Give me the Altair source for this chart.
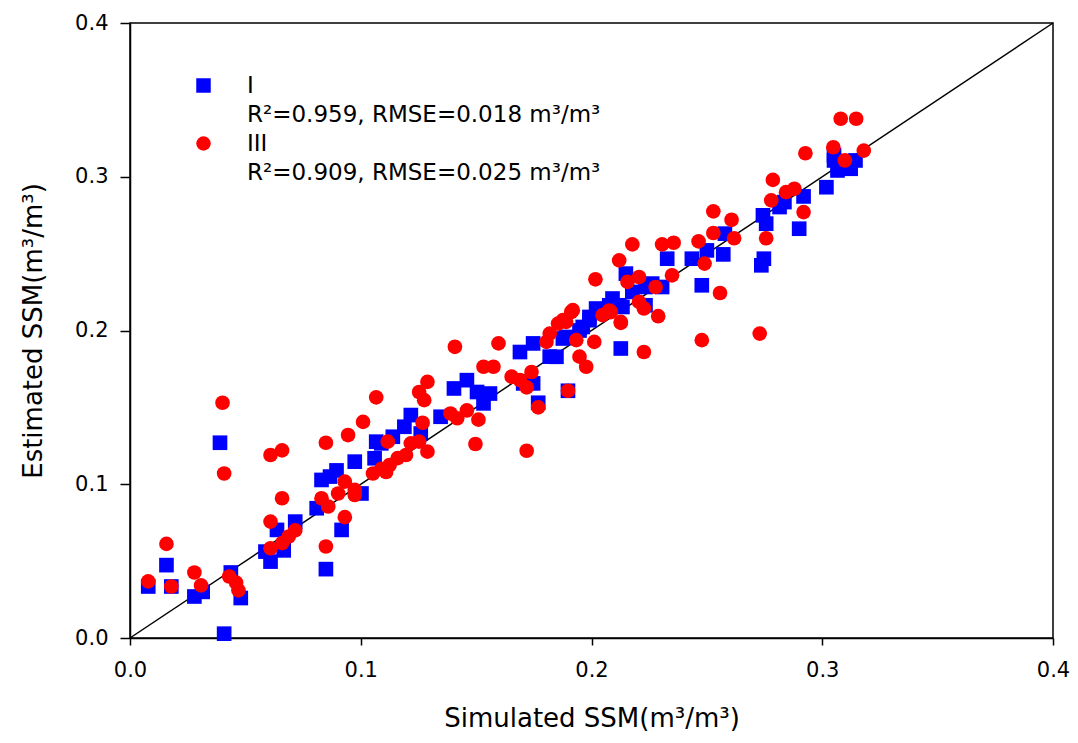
import altair as alt
import pandas as pd

# Series I (blue squares): simulated, estimated
i_sim = [0.0079, 0.0158, 0.0179, 0.0279, 0.0315, 0.039, 0.0408, 0.0437, 0.048, 0.0587,
         0.0609, 0.0637, 0.0666, 0.0716, 0.0809, 0.083, 0.0849, 0.0867, 0.0895, 0.0917,
         0.0974, 0.1003, 0.106, 0.1067, 0.1089, 0.1139, 0.1189, 0.1217, 0.126, 0.1346,
         0.1404, 0.146, 0.1504, 0.1532, 0.156, 0.169, 0.1747, 0.1819, 0.1704, 0.1747,
         0.1769, 0.1898, 0.1876, 0.1948, 0.1991, 0.202, 0.2077, 0.2134, 0.2127, 0.1891,
         0.1848, 0.1962, 0.1991, 0.2091, 0.212, 0.2149, 0.2177, 0.2234, 0.2234, 0.2263,
         0.2306, 0.2328, 0.2435, 0.2478, 0.25, 0.2571, 0.2578, 0.2736, 0.2747, 0.2743,
         0.2757, 0.2815, 0.2836, 0.290, 0.2919, 0.3018, 0.3051, 0.3066, 0.3123, 0.3144,
         0.3051]
i_est = [0.0335, 0.0474, 0.0335, 0.027, 0.030, 0.127, 0.0028, 0.0426, 0.026, 0.0562,
         0.0497, 0.0703, 0.057, 0.0757, 0.0844, 0.1028, 0.0448, 0.105, 0.109, 0.0703,
         0.1147, 0.094, 0.1169, 0.1277, 0.1266, 0.1309, 0.1374, 0.145, 0.133, 0.1439,
         0.1623, 0.1677, 0.160, 0.1526, 0.159, 0.186, 0.1916, 0.183, 0.1656, 0.1656,
         0.153, 0.1608, 0.1948, 0.200, 0.2067, 0.2143, 0.2164, 0.2153, 0.1883, 0.1958,
         0.1829, 0.2023, 0.2088, 0.2208, 0.2164, 0.237, 0.2251, 0.2164, 0.2283, 0.2305,
         0.2283, 0.2467, 0.2467, 0.2294, 0.2521, 0.2495, 0.263, 0.2424, 0.2467, 0.2749,
         0.2695, 0.2803, 0.2835, 0.2662, 0.2872, 0.2932, 0.3106, 0.3041, 0.3052, 0.3106,
         0.314]

# Series III (red circles)
iii_sim = [0.0079, 0.0158, 0.0179, 0.0279, 0.0308, 0.0401, 0.0408, 0.043, 0.046, 0.047,
           0.0609, 0.0659, 0.0659, 0.0609, 0.0609, 0.0659, 0.0688, 0.0716, 0.0849, 0.0945,
           0.101, 0.1067, 0.0849, 0.0931, 0.083, 0.0859, 0.0902, 0.0931, 0.0974, 0.0974,
           0.1053, 0.1089, 0.111, 0.1408, 0.1597, 0.1289, 0.1253, 0.1275, 0.1268, 0.1117,
           0.1217, 0.1253, 0.1289, 0.1196, 0.116, 0.1125, 0.1497, 0.1719, 0.1389, 0.146,
           0.151, 0.1418, 0.1532, 0.1575, 0.1654, 0.169, 0.1719, 0.174, 0.1769, 0.1898,
           0.1805, 0.1819, 0.1855, 0.1912, 0.189, 0.1934, 0.2012, 0.1948, 0.1977, 0.2127,
           0.2048, 0.2077, 0.2227, 0.2478, 0.2729, 0.2557, 0.2017, 0.212, 0.2177, 0.2306,
           0.2356, 0.2464, 0.2528, 0.2607, 0.2528, 0.2618, 0.249, 0.2349, 0.2278, 0.2206,
           0.2156, 0.2127, 0.2206, 0.2227, 0.2289, 0.2084, 0.1919, 0.1876, 0.2757, 0.2779,
           0.2843, 0.2879, 0.2919, 0.2786, 0.2927, 0.3048, 0.318, 0.3098, 0.308, 0.3147]
iii_est = [0.0368, 0.0612, 0.0335, 0.0426, 0.0342, 0.153, 0.107, 0.040, 0.036, 0.031,
           0.119, 0.122, 0.0909, 0.0757, 0.0584, 0.0617, 0.066, 0.070, 0.127, 0.132,
           0.1406, 0.1565, 0.0595, 0.0786, 0.0909, 0.0855, 0.094, 0.1017, 0.0963, 0.093,
           0.107, 0.110, 0.108, 0.1894, 0.1916, 0.1666, 0.160, 0.1547, 0.140, 0.1277,
           0.1266, 0.1277, 0.1212, 0.119, 0.117, 0.1125, 0.1262, 0.1218, 0.146, 0.148,
           0.142, 0.1429, 0.1764, 0.1764, 0.170, 0.1677, 0.163, 0.173, 0.150, 0.1608,
           0.1926, 0.198, 0.2045, 0.212, 0.2056, 0.1937, 0.1926, 0.183, 0.1764, 0.2056,
           0.210, 0.213, 0.186, 0.1937, 0.198, 0.2244, 0.2333, 0.2456, 0.256, 0.256,
           0.2571, 0.258, 0.2775, 0.272, 0.2634, 0.260, 0.2435, 0.2359, 0.2283, 0.2348,
           0.2316, 0.205, 0.2186, 0.2143, 0.2093, 0.212, 0.2132, 0.2067, 0.260, 0.2846,
           0.29, 0.2922, 0.277, 0.298, 0.3153, 0.3192, 0.317, 0.3106, 0.3377, 0.3377]

series_names = ["I", "III"]
series_colors = ["#0000ff", "#ff0000"]
series_shapes = ["square", "circle"]
stats = ["R²=0.959, RMSE=0.018 m³/m³", "R²=0.909, RMSE=0.025 m³/m³"]
line_ends = [0.0, 0.4]
ticks = [0.0, 0.1, 0.2, 0.3, 0.4]

df = pd.concat([
    pd.DataFrame({"sim": i_sim, "est": i_est, "series": "I", "order": 0}),
    pd.DataFrame({"sim": iii_sim, "est": iii_est, "series": "III", "order": 1}),
], ignore_index=True)
line_df = pd.DataFrame({"sim": line_ends, "est": line_ends})

FONT = "DejaVu Sans"
xs = alt.Scale(domain=[0, 0.4], nice=False, zero=False)
ys = alt.Scale(domain=[0, 0.4], nice=False, zero=False)

label_expr = ("datum.label == 'I' ? ['I', '%s'] : ['III', '%s']" % (stats[0], stats[1]))

points = alt.Chart(df).mark_point(filled=True, opacity=1, size=215, strokeWidth=0).encode(
    x=alt.X("sim:Q", scale=xs,
            axis=alt.Axis(values=ticks, format=".1f", title="Simulated SSM(m³/m³)",
                          tickSize=7, labelPadding=14, titlePadding=25)),
    y=alt.Y("est:Q", scale=ys,
            axis=alt.Axis(values=ticks, format=".1f", title="Estimated SSM(m³/m³)",
                          tickSize=10, labelPadding=12, titlePadding=28)),
    color=alt.Color("series:N", scale=alt.Scale(domain=series_names, range=series_colors),
                    legend=alt.Legend(title=None, orient="none", legendX=62, legendY=51,
                                      labelExpr=label_expr, labelFont=FONT, labelFontSize=23,
                                      labelLimit=800, labelBaseline="middle", labelOffset=32,
                                      symbolSize=210, symbolStrokeWidth=0, rowPadding=5,
                                      padding=0)),
    shape=alt.Shape("series:N", scale=alt.Scale(domain=series_names, range=series_shapes)),
    order=alt.Order("order:Q"),
)

diag = alt.Chart(line_df).mark_line(color="black", strokeWidth=1.5).encode(
    x=alt.X("sim:Q", scale=xs), y=alt.Y("est:Q", scale=ys)
)

chart = alt.layer(diag, points).properties(
    width=923, height=615,
    background="white",
    autosize=alt.AutoSizeParams(type="none"),
    padding={"left": 122, "top": 15, "right": 17, "bottom": 97},
).configure(
    style={"guide-label": {"lineHeight": 29}}
).configure_view(
    stroke="black", strokeWidth=1.5
).configure_axis(
    grid=False, domainColor="black", domainWidth=1.5, tickColor="black", tickWidth=1.5,
    labelFont=FONT, labelFontSize=21, labelColor="black", labelFlush=False,
    titleFont=FONT, titleFontSize=26, titleFontWeight="normal", titleColor="black",
)

chart.save("out.html", embed_options={"renderer": "svg", "actions": False})
